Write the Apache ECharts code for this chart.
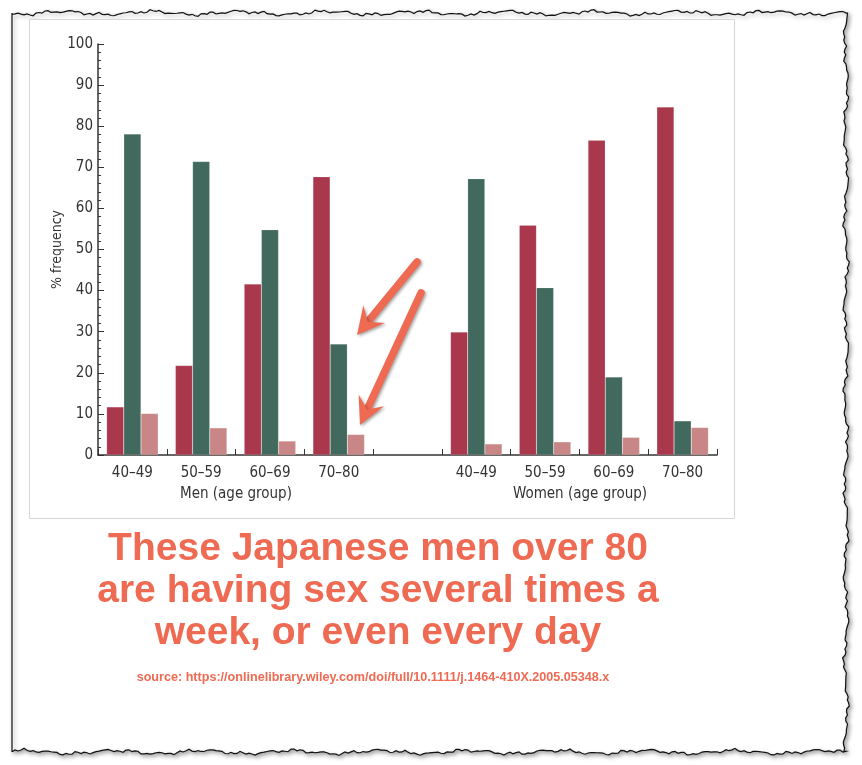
<!DOCTYPE html>
<html>
<head>
<meta charset="utf-8">
<script src="https://cdn.jsdelivr.net/npm/echarts@6/dist/echarts.min.js"></script>
<style>
html,body{margin:0;padding:0;background:#fff;}
#chart{width:862px;height:765px;}
</style>
</head>
<body>
<div id="chart"></div>
<script>
// ---- data ----
const categories = ['40–49', '50–59', '60–69', '70–80', '', '40–49', '50–59', '60–69', '70–80'];
const seriesRed   = [11.7, 21.8, 41.6, 67.7, null, 29.9, 55.9, 76.6, 84.7];
const seriesGreen = [78.1, 71.4, 54.8, 27.0, null, 67.2, 40.7, 19.0, 8.3];
const seriesPink  = [10.1, 6.6, 3.4, 5.0, null, 2.7, 3.2, 4.3, 6.7];
const yTicks = { min: 0, max: 100, interval: 10 };
const groupLabels = ['Men (age group)', 'Women (age group)'];
const yAxisName = '% frequency';
const headline = ['These Japanese men over 80', 'are having sex several times a', 'week, or even every day'];
const sourceText = 'source: https://onlinelibrary.wiley.com/doi/full/10.1111/j.1464-410X.2005.05348.x';

// ---- decoration helpers ----
function noise(t, s) {
  return 1.6 * Math.sin(t * 0.071 + s) + 1.0 * Math.sin(t * 0.23 + 2 * s) +
         0.7 * Math.sin(t * 0.61 + 3 * s) + 0.5 * Math.sin(t * 1.37 + s);
}
function tornBorder() {
  const pts = [];
  const L = 12, R = 846, T = 13, B = 752;
  for (let x = L; x <= R; x += 3) pts.push([x, T + noise(x, 0.3)]);
  for (let y = T; y <= B; y += 3) pts.push([R + noise(y, 1.7), y]);
  for (let x = R; x >= L; x -= 3) pts.push([x, B + noise(x, 2.9)]);
  pts.push([L, B]);
  pts.push([L, T]);
  return pts;
}
function arrow(x1, y1, x2, y2) {
  const dx = x2 - x1, dy = y2 - y1, len = Math.hypot(dx, dy);
  const ux = dx / len, uy = dy / len, nx = -uy, ny = ux;
  const hl = 27, hw = 14, notch = 17;
  const bx = x2 - hl * ux, by = y2 - hl * uy;
  const mx = x2 - notch * ux, my = y2 - notch * uy;
  const col = '#ee6a52';
  const shadow = { shadowBlur: 3, shadowColor: 'rgba(0,0,0,0.35)', shadowOffsetX: 1.5, shadowOffsetY: 1.5 };
  return [
    { type: 'line', z: 100, shape: { x1: x1, y1: y1, x2: mx, y2: my },
      style: Object.assign({ stroke: col, lineWidth: 7.5, lineCap: 'round' }, shadow) },
    { type: 'polygon', z: 101, shape: { points: [[x2, y2], [bx + hw * nx, by + hw * ny], [mx, my], [bx - hw * nx, by - hw * ny]] },
      style: Object.assign({ fill: col }, shadow) }
  ];
}

const chart = echarts.init(document.getElementById('chart'), null, { renderer: 'canvas' });
const axisFont = "'Liberation Sans Narrow', 'DejaVu Sans Condensed', sans-serif";
const boldFont = "'Liberation Sans', Arial, sans-serif";

const graphics = [
  { type: 'polygon', z: -10, shape: { points: tornBorder() },
    style: { fill: '#fff', stroke: '#111', lineWidth: 1.2, shadowBlur: 4, shadowColor: 'rgba(0,0,0,0.35)', shadowOffsetX: 2, shadowOffsetY: 2 } },
  { type: 'rect', z: -9, shape: { x: 29.5, y: 19.5, width: 705, height: 499 },
    style: { fill: '#fff', stroke: '#d6d6d6', lineWidth: 1 } },
  { type: 'text', x: 236, y: 487, style: { text: groupLabels[0], font: "15px " + axisFont, fill: '#333', textAlign: 'center' } },
  { type: 'text', x: 580, y: 487, style: { text: groupLabels[1], font: "15px " + axisFont, fill: '#333', textAlign: 'center' } },
  { type: 'text', x: 378, y: 528, style: { text: headline.join('\n'), font: "bold 39px " + boldFont, fill: '#ee6a52', textAlign: 'center', lineHeight: 42 } },
  { type: 'text', x: 373, y: 671, style: { text: sourceText, font: "bold 12.6px " + boldFont, fill: '#ee6a52', textAlign: 'center' } }
].concat(arrow(417, 262, 357, 335), arrow(421, 293, 360, 425));

const barBase = { type: 'bar', barGap: '0%', barCategoryGap: '25%', itemStyle: { borderColor: 'rgba(255,255,255,0.3)', borderWidth: 0.5 } };

chart.setOption({
  animation: false,
  backgroundColor: '#fff',
  grid: { left: 98, right: 145, top: 44, bottom: 310 },
  xAxis: {
    type: 'category',
    data: categories,
    axisLine: { lineStyle: { color: '#333', width: 1.5 } },
    axisTick: { show: true, inside: true, length: 6, interval: 0, alignWithLabel: false, lineStyle: { color: '#333' } },
    axisLabel: { color: '#333', fontSize: 15, fontFamily: axisFont, margin: 11, interval: 0 }
  },
  yAxis: {
    type: 'value',
    min: yTicks.min, max: yTicks.max, interval: yTicks.interval,
    name: yAxisName, nameLocation: 'middle', nameGap: 34, nameMoveOverlap: false,
    nameTextStyle: { color: '#333', fontSize: 14, fontFamily: axisFont },
    axisLine: { show: true, lineStyle: { color: '#333', width: 1.5 } },
    axisTick: { show: true, inside: true, length: 6, lineStyle: { color: '#333' } },
    minorTick: { show: true, splitNumber: 5, length: 3, lineStyle: { color: '#333' } },
    splitLine: { show: false },
    axisLabel: { color: '#333', fontSize: 15, fontFamily: axisFont, margin: 5 }
  },
  series: [
    Object.assign({}, barBase, { name: 'red', data: seriesRed, itemStyle: Object.assign({}, barBase.itemStyle, { color: '#a9384c' }) }),
    Object.assign({}, barBase, { name: 'green', data: seriesGreen, itemStyle: Object.assign({}, barBase.itemStyle, { color: '#41695d' }) }),
    Object.assign({}, barBase, { name: 'pink', data: seriesPink, itemStyle: Object.assign({}, barBase.itemStyle, { color: '#c98686' }) })
  ],
  graphic: graphics
});
</script>
</body>
</html>
